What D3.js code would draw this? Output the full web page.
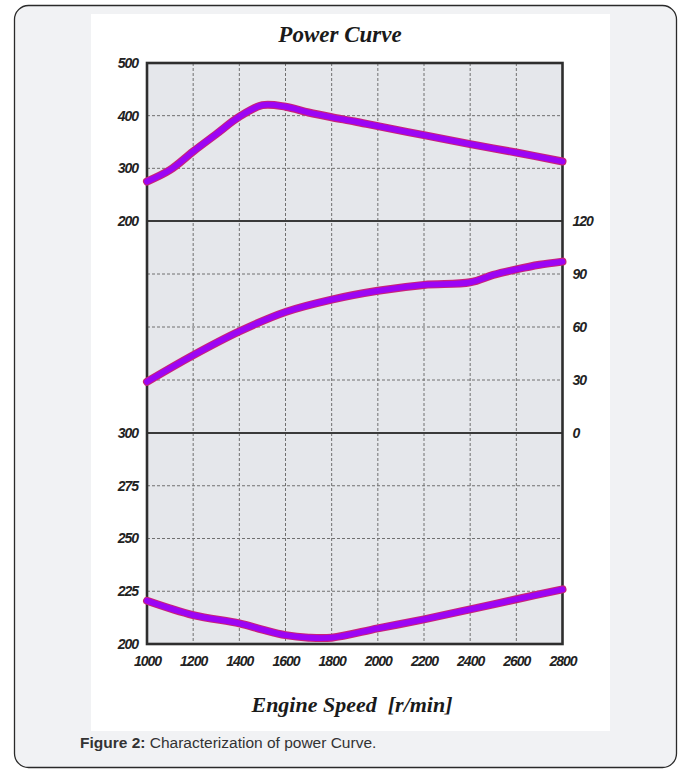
<!DOCTYPE html>
<html>
<head>
<meta charset="utf-8">
<script src="https://cdn.jsdelivr.net/npm/d3@7"></script>
<style>
  html, body { margin: 0; padding: 0; background: #ffffff; }
  svg { display: block; }
</style>
</head>
<body>
<svg id="chart" width="685" height="771"></svg>
<script>
// Engine speed ticks (r/min)
const speedTicks = [1000, 1200, 1400, 1600, 1800, 2000, 2200, 2400, 2600, 2800];

// Top panel: power curve (left axis 200–500)
const powerSpeed = [1000, 1100, 1200, 1300, 1400, 1500, 1600, 1700, 1800, 1900, 2000, 2200, 2400, 2600, 2800];
const powerValue = [275, 297, 332, 365, 398, 420, 417, 406, 397, 389, 380, 363, 346, 330, 313];
const powerTicks = [200, 300, 400, 500];

// Middle panel: second curve (right axis 0–120)
const midSpeed = [1000, 1200, 1400, 1600, 1800, 2000, 2200, 2400, 2500, 2600, 2700, 2800];
const midValue = [29, 44, 57.5, 68.5, 75.5, 80.5, 83.8, 85.3, 89.5, 92.6, 95.2, 97];
const midTicks = [0, 30, 60, 90, 120];

// Bottom panel: third curve (left axis 200–300)
const lowSpeed = [1000, 1200, 1400, 1500, 1600, 1700, 1800, 2000, 2200, 2400, 2600, 2800];
const lowValue = [220.5, 213.7, 209.8, 206.8, 204.2, 203, 203, 207.4, 211.7, 216.4, 221.2, 225.9];
const lowTicks = [200, 225, 250, 275, 300];

const svg = d3.select("#chart");

// Page frame and white figure panel
svg.append("rect").attr("x", 0).attr("y", 0).attr("width", 685).attr("height", 771).attr("fill", "#ffffff");
svg.append("rect")
  .attr("x", 14.5).attr("y", 5.5).attr("width", 662).attr("height", 762)
  .attr("rx", 14).attr("fill", "#f1f2f4").attr("stroke", "#2a2a2a").attr("stroke-width", 1.3);
svg.append("rect").attr("x", 91).attr("y", 14).attr("width", 519).attr("height", 717).attr("fill", "#ffffff");

// Plot geometry
const left = 147, right = 562.5;
const yTop = 63, yDiv1 = 221, yDiv2 = 433, yBot = 644;

const x = d3.scaleLinear().domain([1000, 2800]).range([left, right]);
const yPower = d3.scaleLinear().domain([200, 500]).range([yDiv1, yTop]);
const yMid = d3.scaleLinear().domain([0, 120]).range([yDiv2, yDiv1]);
const yLow = d3.scaleLinear().domain([200, 300]).range([yBot, yDiv2]);

// Plot background
svg.append("rect").attr("x", left).attr("y", yTop)
  .attr("width", right - left).attr("height", yBot - yTop).attr("fill", "#e5e7eb");

const grid = svg.append("g").attr("stroke", "#707070").attr("stroke-width", 1)
  .attr("stroke-dasharray", "3,2").attr("fill", "none");

// Vertical dashed grid
grid.selectAll("line.v").data(speedTicks.slice(1, -1)).join("line")
  .attr("x1", d => x(d)).attr("x2", d => x(d)).attr("y1", yTop).attr("y2", yBot);

// Horizontal dashed grid for each panel
const hLines = []
  .concat([300, 400].map(v => yPower(v)))
  .concat([30, 60, 90].map(v => yMid(v)))
  .concat([225, 250, 275].map(v => yLow(v)));
grid.selectAll("line.h").data(hLines).join("line")
  .attr("x1", left).attr("x2", right).attr("y1", d => d).attr("y2", d => d);

// Panel dividers
svg.selectAll("line.div").data([yDiv1, yDiv2]).join("line")
  .attr("x1", left).attr("x2", right).attr("y1", d => d).attr("y2", d => d)
  .attr("stroke", "#3a3a3a").attr("stroke-width", 2.2);

// Outer frame
svg.append("rect").attr("x", left).attr("y", yTop)
  .attr("width", right - left).attr("height", yBot - yTop)
  .attr("fill", "none").attr("stroke", "#2e2e2e").attr("stroke-width", 2.6);

// Curves: magenta halo under a violet core
function drawCurve(xs, ys, yScale) {
  const pts = xs.map((s, i) => [s, ys[i]]);
  const line = d3.line().x(d => x(d[0])).y(d => yScale(d[1])).curve(d3.curveCatmullRom.alpha(0.5));
  svg.append("path").attr("d", line(pts)).attr("fill", "none")
    .attr("stroke", "#c8237a").attr("stroke-width", 8).attr("stroke-linecap", "round");
  svg.append("path").attr("d", line(pts)).attr("fill", "none")
    .attr("stroke", "#9c05f4").attr("stroke-width", 5.8).attr("stroke-linecap", "round");
}
drawCurve(powerSpeed, powerValue, yPower);
drawCurve(midSpeed, midValue, yMid);
drawCurve(lowSpeed, lowValue, yLow);

// Axes
const tickFont = "'Liberation Sans', Arial, sans-serif";
function styleAxis(g) {
  g.select(".domain").remove();
  g.selectAll(".tick line").remove();
  g.selectAll(".tick text")
    .attr("font-family", tickFont).attr("font-style", "italic").attr("font-weight", "bold")
    .attr("font-size", 14).attr("letter-spacing", -1).attr("fill", "#222");
}
svg.append("g").attr("transform", `translate(${left},0)`)
  .call(d3.axisLeft(yPower).tickValues(powerTicks).tickSize(0).tickPadding(9))
  .call(styleAxis);
svg.append("g").attr("transform", `translate(${left},0)`)
  .call(d3.axisLeft(yLow).tickValues(lowTicks).tickSize(0).tickPadding(9))
  .call(styleAxis);
svg.append("g").attr("transform", `translate(${right},0)`)
  .call(d3.axisRight(yMid).tickValues(midTicks).tickSize(0).tickPadding(10))
  .call(styleAxis);
svg.append("g").attr("transform", `translate(0,${yBot})`)
  .call(d3.axisBottom(x).tickValues(speedTicks).tickFormat(d3.format("d")).tickSize(0).tickPadding(12))
  .call(styleAxis);

// Titles
const serif = "'Liberation Serif', 'Times New Roman', serif";
svg.append("text").attr("x", 340).attr("y", 42).attr("text-anchor", "middle")
  .attr("font-family", serif).attr("font-style", "italic").attr("font-weight", "bold")
  .attr("font-size", 23).attr("fill", "#1a1a1a").text("Power Curve");
svg.append("text").attr("x", 352).attr("y", 712).attr("text-anchor", "middle")
  .attr("font-family", serif).attr("font-style", "italic").attr("font-weight", "bold")
  .attr("font-size", 22).attr("fill", "#1a1a1a").attr("xml:space", "preserve")
  .text("Engine Speed  [r/min]");

// Caption
const cap = svg.append("text").attr("x", 80).attr("y", 748)
  .attr("font-family", "'Liberation Sans', Arial, sans-serif").attr("font-size", 15.5).attr("fill", "#333");
cap.append("tspan").attr("font-weight", "bold").text("Figure 2:");
cap.append("tspan").text(" Characterization of power Curve.");
</script>
</body>
</html>
